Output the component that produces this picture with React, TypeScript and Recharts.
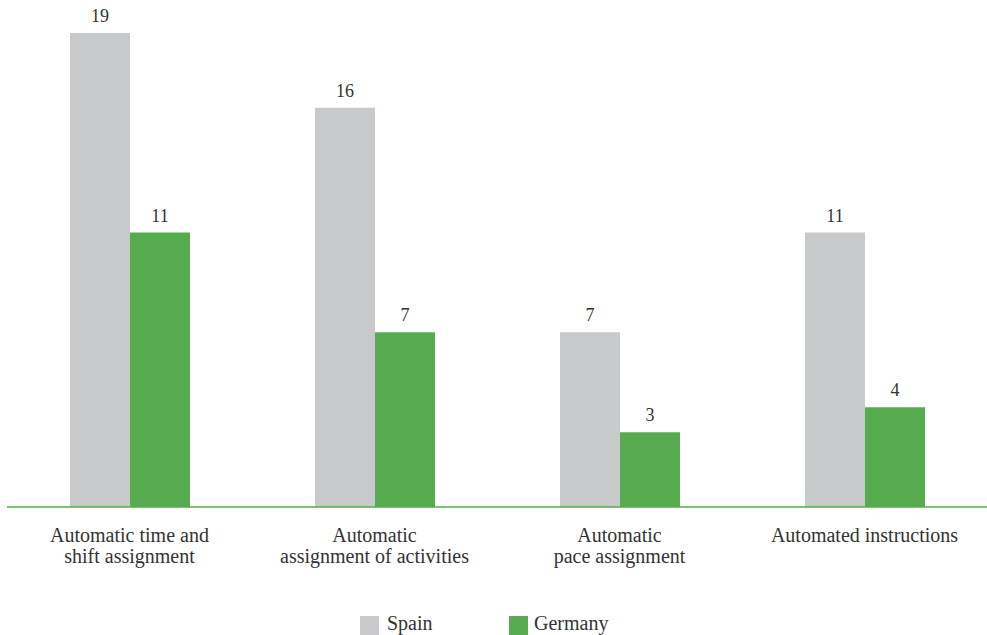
import React from 'react';
import { BarChart, Bar, XAxis, YAxis, LabelList, Legend } from 'recharts';

const categories = [
  'Automatic time and shift assignment',
  'Automatic assignment of activities',
  'Automatic pace assignment',
  'Automated instructions',
];
const tickLines = [
  ['Automatic time and', 'shift assignment'],
  ['Automatic', 'assignment of activities'],
  ['Automatic', 'pace assignment'],
  ['Automated instructions'],
];
const spain = [19, 16, 7, 11];
const germany = [11, 7, 3, 4];
const seriesNames = ['Spain', 'Germany'];

const GRAY = '#c8c9cb';
const GREEN = '#57ab4f';
const TEXT = '#333333';
const FONT = '"Liberation Serif", "Times New Roman", serif';

const data = categories.map((c, i) => ({ category: c, spain: spain[i], germany: germany[i] }));

const Tick = (props: any) => {
  const { x, y, index } = props;
  const lines = tickLines[index] || [];
  return (
    <g>
      <text x={x} y={y + 34.5} textAnchor="middle" fill={TEXT} fontSize={20} fontFamily={FONT}>
        {lines.map((l, j) => (
          <tspan key={j} x={x} dy={j === 0 ? 0 : 21.5}>
            {l}
          </tspan>
        ))}
      </text>
    </g>
  );
};

const LegendContent = () => {
  const colors = [GRAY, GREEN];
  return (
    <div style={{ position: 'relative', height: 48, width: 987 }}>
      {seriesNames.map((n, i) => (
        <div
          key={n}
          style={{
            position: 'absolute',
            left: 360 + i * 149,
            top: 29,
            display: 'flex',
            alignItems: 'center',
            height: 19,
          }}
        >
          <div style={{ width: 19, height: 19, background: colors[i], marginRight: i === 0 ? 8 : 6 }} />
          <span style={{ fontFamily: FONT, fontSize: 20, color: TEXT, lineHeight: '19px', position: 'relative', top: -2 }}>{n}</span>
        </div>
      ))}
    </div>
  );
};

export default function App() {
  return (
    <div style={{ position: 'absolute', left: 0, top: 0, width: 987, height: 635, background: '#fff' }}>
      <BarChart
        width={987}
        height={635}
        data={data}
        margin={{ top: 33, right: 0, left: 7, bottom: 0 }}
        barGap={0}
        barSize={60}
      >
        <XAxis
          dataKey="category"
          interval={0}
          height={80}
          tickLine={false}
          tickSize={0}
          tickMargin={0}
          axisLine={{ stroke: GREEN, strokeWidth: 1.5 }}
          tick={<Tick />}
        />
        <YAxis hide domain={[0, 19]} />
        <Legend verticalAlign="bottom" wrapperStyle={{ left: 0, width: 987, bottom: 0 }} content={<LegendContent />} />
        <Bar dataKey="spain" name="Spain" fill={GRAY} isAnimationActive={false}>
          <LabelList dataKey="spain" position="top" offset={11} fill={TEXT} fontSize={18} fontFamily={FONT} />
        </Bar>
        <Bar dataKey="germany" name="Germany" fill={GREEN} isAnimationActive={false}>
          <LabelList dataKey="germany" position="top" offset={11} fill={TEXT} fontSize={18} fontFamily={FONT} />
        </Bar>
      </BarChart>
    </div>
  );
}
